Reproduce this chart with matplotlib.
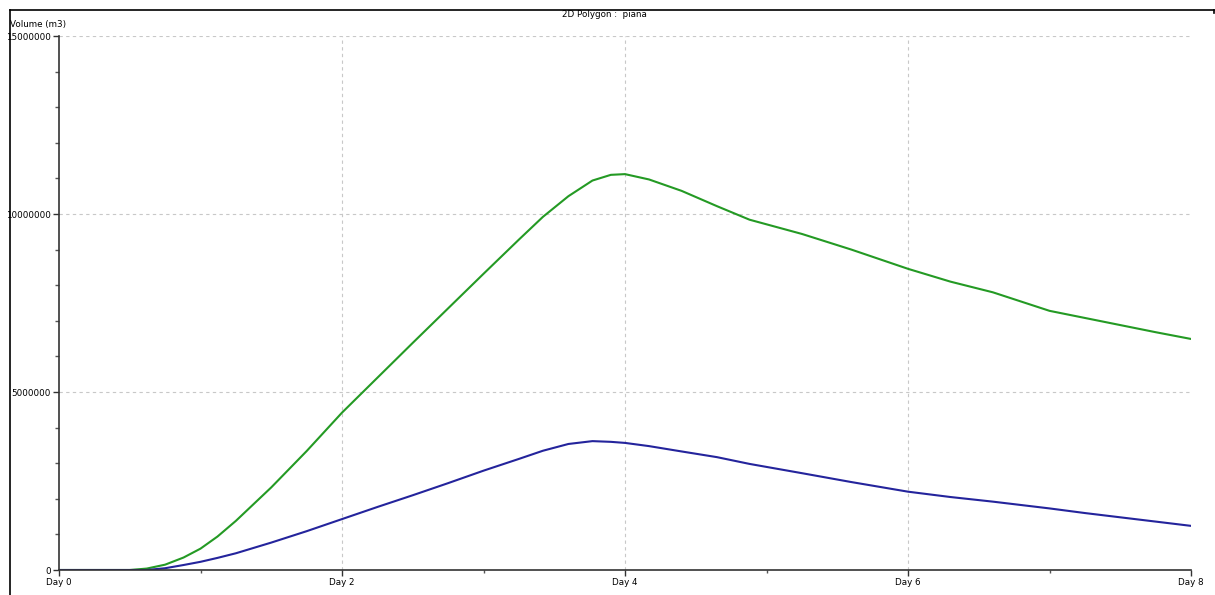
import matplotlib
matplotlib.use("Agg")
import matplotlib.pyplot as plt
from matplotlib.lines import Line2D
from matplotlib.ticker import MultipleLocator, FuncFormatter

# values (volume in millions of m3)
days = [0, 0.25, 0.5, 0.62, 0.75, 0.88, 1.0, 1.12, 1.25, 1.5, 1.75, 2.0,
        2.25, 2.5, 2.75, 3.0, 3.25, 3.42, 3.6, 3.77, 3.9, 4.0, 4.17, 4.4,
        4.65, 4.88, 5.25, 5.6, 6.0, 6.3, 6.6, 7.0, 7.25, 7.5, 7.75, 8.0]
green_m = [0, 0, 0, 0.04, 0.15, 0.35, 0.6, 0.94, 1.38, 2.32, 3.34, 4.42,
           5.4, 6.38, 7.35, 8.32, 9.28, 9.92, 10.5, 10.94, 11.1, 11.12,
           10.97, 10.65, 10.22, 9.84, 9.44, 9.0, 8.46, 8.1, 7.8, 7.28,
           7.08, 6.88, 6.68, 6.49]
blue_m = [0, 0, 0, 0, 0.05, 0.14, 0.23, 0.34, 0.47, 0.77, 1.09, 1.43,
          1.77, 2.1, 2.44, 2.79, 3.12, 3.35, 3.54, 3.62, 3.6, 3.57, 3.48,
          3.33, 3.17, 2.98, 2.72, 2.47, 2.2, 2.05, 1.92, 1.73, 1.6, 1.48,
          1.36, 1.24]

x_major = [0, 2, 4, 6, 8]
y_major = [0, 5000000, 10000000, 15000000]
title = "2D Polygon :  piana"
ylabel = "Volume (m3)"

fig = plt.figure(figsize=(12.15, 5.95), dpi=100)
ax = fig.add_axes([59 / 1215, 25 / 595, 1132 / 1215, 534 / 595])

ax.plot(days, [v * 1e6 for v in green_m], color="#249a24", lw=1.5)
ax.plot(days, [v * 1e6 for v in blue_m], color="#24249c", lw=1.5)

ax.set_xlim(0, 8)
ax.set_ylim(0, 15000000)
ax.set_xticks(x_major)
ax.set_xticklabels([f"Day {d}" for d in x_major])
ax.xaxis.set_minor_locator(MultipleLocator(1))
ax.set_yticks(y_major)
ax.yaxis.set_major_formatter(FuncFormatter(lambda v, p: f"{int(v)}"))
ax.yaxis.set_minor_locator(MultipleLocator(1000000))

ax.tick_params(axis="both", which="major", labelsize=6.3, length=4, width=1,
               color="#333333", pad=2)
ax.tick_params(axis="x", which="minor", length=2, width=1, color="#555555")
ax.tick_params(axis="y", which="minor", length=3, width=1, color="#555555")

for d in x_major[1:-1]:
    ax.axvline(d, color="#c8c8c8", lw=0.8, ls=(0, (3, 3)), zorder=0)
for v in y_major[1:]:
    ax.axhline(v, color="#c8c8c8", lw=0.8, ls=(0, (3, 3)), zorder=0)

for side in ("top", "right"):
    ax.spines[side].set_visible(False)
for side in ("left", "bottom"):
    ax.spines[side].set_color("#333333")
    ax.spines[side].set_linewidth(1.2)

# outer frame of the original window
fig.add_artist(Line2D([9.5 / 1215, 9.5 / 1215], [0, 1 - 10 / 595],
                      color="black", lw=1.2))
fig.add_artist(Line2D([9.5 / 1215, 1214 / 1215], [1 - 10 / 595, 1 - 10 / 595],
                      color="black", lw=1.2))
fig.add_artist(Line2D([1214 / 1215, 1214 / 1215], [1 - 10 / 595, 1 - 13 / 595],
                      color="black", lw=1.2))

fig.text(604 / 1215, 1 - 14.5 / 595, title, fontsize=6.3, ha="center", va="center")
fig.text(10 / 1215, 1 - 25 / 595, ylabel, fontsize=6.3, ha="left", va="center")

fig.savefig("out.png", dpi=100)
